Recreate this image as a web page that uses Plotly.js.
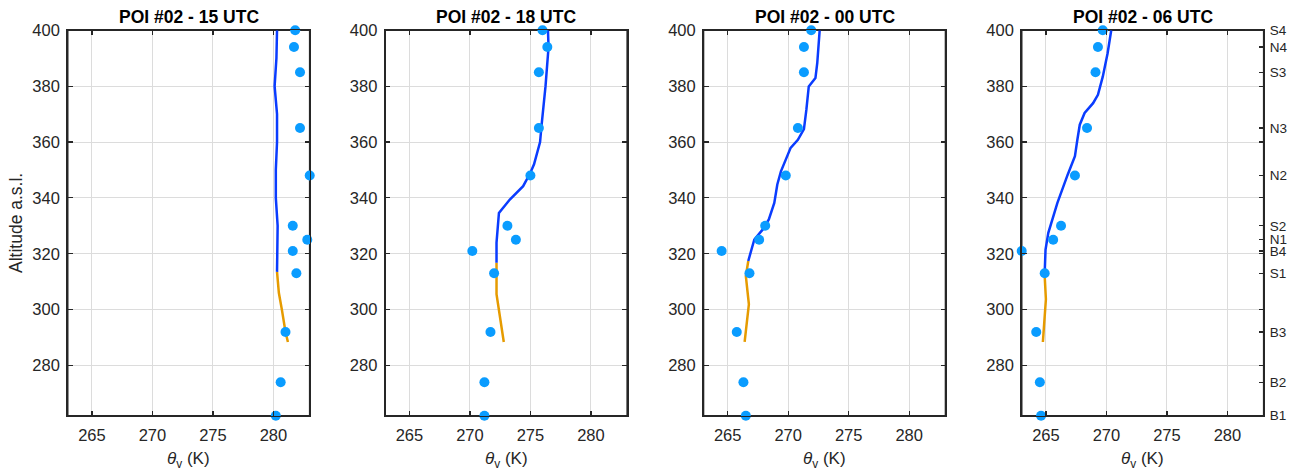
<!DOCTYPE html>
<html>
<head>
<meta charset="utf-8">
<script src="https://cdn.plot.ly/plotly-3.0.1.min.js"></script>
<style>html,body{margin:0;padding:0;background:#fff;}#chart{width:1300px;height:475px;}</style>
</head>
<body>
<div id="chart"></div>
<script>
// Observation altitudes (m a.s.l.) and station names
const obsAlt = [262, 274, 292, 313, 321, 325, 330, 348, 365, 385, 394, 400];
const stationNames = ['B1', 'B2', 'B3', 'S1', 'B4', 'N1', 'S2', 'N2', 'N3', 'S3', 'N4', 'S4'];

const panelTitles = ['POI #02 - 15 UTC', 'POI #02 - 18 UTC', 'POI #02 - 00 UTC', 'POI #02 - 06 UTC'];

// Observed theta_v (K) per panel, matching obsAlt
const obs15 = [280.2, 280.6, 281.0, 281.9, 281.6, 282.8, 281.6, 283.0, 282.2, 282.2, 281.7, 281.8];
const obs18 = [271.2, 271.2, 271.7, 272.0, 270.2, 273.8, 273.1, 275.0, 275.7, 275.7, 276.4, 276.0];
const obs00 = [266.5, 266.3, 265.75, 266.8, 264.5, 267.6, 268.1, 269.8, 270.8, 271.3, 271.3, 271.9];
const obs06 = [264.6, 264.5, 264.2, 264.9, 263.0, 265.6, 266.25, 267.4, 268.4, 269.1, 269.3, 269.7];

// Upper profile (blue) per panel
const upAlt15 = [313.5, 320, 330, 340, 350, 360, 370, 380, 390, 400];
const upTh15  = [280.3, 280.3, 280.35, 280.2, 280.2, 280.3, 280.3, 280.1, 280.25, 280.3];
const upAlt18 = [316.8, 324, 334.6, 339.4, 344.2, 349, 352, 356.5, 360, 365, 380, 394, 400];
const upTh18  = [272.2, 272.2, 272.4, 273.3, 274.4, 275.0, 275.3, 275.6, 275.8, 275.9, 276.25, 276.5, 276.45];
const upAlt00 = [317.4, 325.1, 328.7, 332.3, 338.2, 344.8, 349.5, 353.7, 357.9, 360.8, 364.6, 371.5, 379.9, 382.9, 388.2, 400];
const upTh00  = [266.7, 267.2, 267.9, 268.4, 268.85, 269.1, 269.4, 269.8, 270.2, 270.8, 271.3, 271.5, 271.7, 272.25, 272.4, 272.6];
const upAlt06 = [313.2, 321.5, 327.5, 338.2, 348.3, 354.9, 360.8, 366.2, 370.4, 373.9, 376.9, 383.4, 391.8, 400];
const upTh06  = [264.9, 264.97, 265.2, 265.95, 266.8, 267.4, 267.6, 267.8, 268.2, 268.9, 269.3, 269.7, 270.1, 270.4];

// Lower profile (orange) per panel
const loAlt15 = [288.4, 292, 300, 306, 313.5];
const loTh15  = [281.2, 281.0, 280.7, 280.45, 280.3];
const loAlt18 = [288.4, 305.5, 316.8];
const loTh18  = [272.8, 272.2, 272.2];
const loAlt00 = [288.4, 301.9, 312, 317.4];
const loTh00  = [266.4, 266.75, 266.5, 266.7];
const loAlt06 = [288.4, 303.7, 312];
const loTh06  = [264.75, 265.0, 264.9];

const xTicks = [265, 270, 275, 280];
const yTicks = [280, 300, 320, 340, 360, 380, 400];

const obsList = [obs15, obs18, obs00, obs06];
const upAlts = [upAlt15, upAlt18, upAlt00, upAlt06];
const upThs = [upTh15, upTh18, upTh00, upTh06];
const loAlts = [loAlt15, loAlt18, loAlt00, loAlt06];
const loThs = [loTh15, loTh18, loTh00, loTh06];

const W = 1300, H = 475;
const lefts = [67.7, 385.2, 703.5, 1021.7];
const plotW = 242;
const topPx = 30.3, botPx = 415.7;

const BLUE = '#0a3cff', ORANGE = '#e69b00', DOT = '#0a9cff', AX = '#262626';
const FONT = 'Arial, "Liberation Sans", Helvetica, sans-serif';

const traces = [];
const layout = {
  width: W, height: H,
  margin: {l: 0, r: 0, t: 0, b: 0},
  paper_bgcolor: '#fff', plot_bgcolor: '#fff',
  showlegend: false,
  font: {family: FONT, size: 16, color: AX},
  annotations: [],
  shapes: []
};

for (let i = 0; i < 4; i++) {
  const n = i + 1;
  const sx = (n === 1 ? '' : String(n));
  const xa = 'x' + sx, ya = 'y' + sx;
  traces.push({x: loThs[i], y: loAlts[i], xaxis: xa, yaxis: ya, mode: 'lines',
    line: {color: ORANGE, width: 2.5}, hoverinfo: 'skip'});
  traces.push({x: upThs[i], y: upAlts[i], xaxis: xa, yaxis: ya, mode: 'lines',
    line: {color: BLUE, width: 2.5}, hoverinfo: 'skip'});
  traces.push({x: obsList[i], y: obsAlt, xaxis: xa, yaxis: ya, mode: 'markers',
    marker: {color: DOT, size: 10}, cliponaxis: false, hoverinfo: 'skip'});

  const d0 = lefts[i] / W, d1 = (lefts[i] + plotW) / W;
  layout['xaxis' + sx] = {
    domain: [d0, d1], anchor: ya, range: [263, 283],
    tickvals: xTicks, ticks: 'inside', ticklen: 5, tickcolor: AX, tickwidth: 1.2,
    showline: true, linecolor: AX, linewidth: 1.5, mirror: 'ticks',
    showgrid: true, gridcolor: '#dcdcdc', gridwidth: 1, zeroline: false,
    tickfont: {family: FONT, size: 16.5, color: AX}, ticklabelstandoff: 4
  };
  layout['yaxis' + sx] = {
    domain: [1 - botPx / H, 1 - topPx / H], anchor: xa, range: [262, 400],
    tickvals: yTicks, ticks: 'inside', ticklen: 5, tickcolor: AX, tickwidth: 1.2,
    showline: true, linecolor: AX, linewidth: 1.5, mirror: 'ticks',
    showgrid: true, gridcolor: '#dcdcdc', gridwidth: 1, zeroline: false,
    tickfont: {family: FONT, size: 16.5, color: AX}, ticklabelstandoff: 3
  };
  layout.shapes.push({type: 'rect', xref: xa + ' domain', yref: ya + ' domain',
    x0: 0, x1: 1, y0: 0, y1: 1, line: {color: AX, width: 1.6}, fillcolor: 'rgba(0,0,0,0)', layer: 'below'});
  layout.annotations.push({
    text: '<b>' + panelTitles[i] + '</b>', xref: 'paper', yref: 'paper',
    x: (d0 + d1) / 2, y: 1 - 17 / H, xanchor: 'center', yanchor: 'middle',
    showarrow: false, font: {family: FONT, size: 17.5, color: '#000'}
  });
  layout.annotations.push({
    text: '<i>θ</i><sub>v</sub> (K)', xref: 'paper', yref: 'paper',
    x: (d0 + d1) / 2, y: 1 - 460 / H, xanchor: 'center', yanchor: 'middle',
    showarrow: false, font: {family: FONT, size: 17, color: AX}
  });
}
layout.annotations.push({
  text: 'Altitude a.s.l.', xref: 'paper', yref: 'paper', textangle: -90,
  x: 16 / W, y: 1 - 223 / H, xanchor: 'center', yanchor: 'middle',
  showarrow: false, font: {family: FONT, size: 17.5, color: AX}
});

// Right-side station axis on the last panel
traces.push({x: [], y: [], xaxis: 'x4', yaxis: 'y5', mode: 'markers', hoverinfo: 'skip'});
layout.yaxis5 = {
  overlaying: 'y4', anchor: 'x4', side: 'right', range: [262, 400],
  tickvals: obsAlt, ticktext: stationNames, ticks: 'inside', ticklen: 5, tickcolor: AX, tickwidth: 1.2,
  showgrid: false, zeroline: false, showline: false,
  tickfont: {family: FONT, size: 13.5, color: AX}, ticklabelstandoff: 5
};

Plotly.newPlot('chart', traces, layout, {staticPlot: true, displayModeBar: false});
</script>
</body>
</html>
